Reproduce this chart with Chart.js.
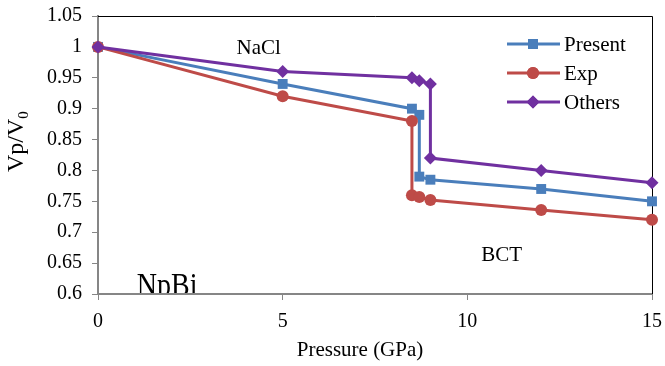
<!DOCTYPE html>
<html>
<head>
<meta charset="utf-8">
<script src="https://cdn.jsdelivr.net/npm/chart.js@4.4.0/dist/chart.umd.min.js"></script>
<style>
  html, body { margin: 0; padding: 0; background: #fff; }
  #wrap { width: 665px; height: 366px; }
</style>
</head>
<body>
<div id="wrap"><canvas id="npbiChart" width="665" height="366"></canvas></div>
<script>
// values
const seriesNames = ['Present', 'Exp', 'Others'];
const presentX = [0, 5, 8.5, 8.7, 8.7, 9, 12, 15];
const presentY = [1, 0.94, 0.9, 0.89, 0.79, 0.785, 0.77, 0.75];
const expX = [0, 5, 8.5, 8.5, 8.7, 9, 12, 15];
const expY = [1, 0.92, 0.88, 0.76, 0.757, 0.752, 0.736, 0.72];
const othersX = [0, 5, 8.5, 8.7, 9, 9, 12, 15];
const othersY = [1, 0.96, 0.95, 0.945, 0.94, 0.82, 0.8, 0.78];

const serif = '"Liberation Serif", "Times New Roman", serif';
const axisGray = '#868686';

function toPoints(xs, ys) {
  return xs.map((x, i) => ({ x: x, y: ys[i] }));
}

function series(name, xs, ys, color, style, radius, order) {
  return {
    label: name,
    data: toPoints(xs, ys),
    borderColor: color,
    backgroundColor: color,
    borderWidth: 3,
    pointStyle: style,
    pointRadius: radius,
    pointHoverRadius: radius,
    pointBorderWidth: 0,
    showLine: true,
    tension: 0,
    clip: false,
    order: order
  };
}

const data = {
  datasets: [
    series(seriesNames[0], presentX, presentY, '#4a7ebb', 'rect', 7, 3),
    series(seriesNames[1], expX, expY, '#be4b48', 'circle', 6, 2),
    series(seriesNames[2], othersX, othersY, '#7030a0', 'rectRot', 6.5, 1)
  ]
};

// frame, labels, legend and axis titles drawn by hand
const extras = {
  id: 'extras',
  beforeDatasetsDraw(chart) {
    const { ctx, chartArea: a } = chart;
    ctx.save();
    ctx.strokeStyle = '#000';
    ctx.lineWidth = 1;
    ctx.beginPath();
    ctx.moveTo(a.left, a.top + 0.5);
    ctx.lineTo(a.right + 0.5, a.top + 0.5);
    ctx.lineTo(a.right + 0.5, a.bottom);
    ctx.stroke();
    ctx.restore();
  },
  afterDraw(chart) {
    const { ctx, chartArea: a, scales } = chart;
    const xs = scales.x, ys = scales.y;
    ctx.save();
    ctx.fillStyle = '#000';
    ctx.textBaseline = 'alphabetic';

    // phase labels
    ctx.font = '21px ' + serif;
    ctx.textAlign = 'center';
    ctx.fillText('NaCl', xs.getPixelForValue(4.35), ys.getPixelForValue(0.9885));
    ctx.fillText('BCT', xs.getPixelForValue(10.93), ys.getPixelForValue(0.654));

    // compound name, cut off by the plot area like in the original
    ctx.save();
    ctx.beginPath();
    ctx.rect(a.left, a.top, a.right - a.left, a.bottom - a.top - 1);
    ctx.clip();
    ctx.font = '28px ' + serif;
    ctx.textAlign = 'left';
    ctx.translate(xs.getPixelForValue(1.05), a.bottom + 2);
    ctx.scale(1, 1.2);
    ctx.fillText('NpBi', 0, 0);
    ctx.restore();

    // legend: line with marker, like Excel
    ctx.font = '21px ' + serif;
    ctx.textAlign = 'left';
    chart.data.datasets.forEach((ds, i) => {
      const y = a.top + 28 + i * 29;
      const x0 = a.right - 145;
      ctx.strokeStyle = ds.borderColor;
      ctx.lineWidth = 3;
      ctx.beginPath();
      ctx.moveTo(x0, y);
      ctx.lineTo(x0 + 53, y);
      ctx.stroke();
      ctx.fillStyle = ds.backgroundColor;
      Chart.helpers.drawPoint(ctx, { pointStyle: ds.pointStyle, rotation: 0, borderWidth: 0, radius: ds.pointRadius }, x0 + 26, y);
      ctx.fill();
      ctx.fillStyle = '#000';
      ctx.fillText(ds.label, x0 + 57, y + 7);
    });

    // axis titles
    ctx.font = '21px ' + serif;
    ctx.textAlign = 'center';
    ctx.fillText('Pressure (GPa)', 360, 356);

    ctx.translate(23, 172);
    ctx.rotate(-Math.PI / 2);
    ctx.textAlign = 'left';
    ctx.font = '24px ' + serif;
    ctx.fillText('Vp/V', 0, 0);
    const w = ctx.measureText('Vp/V').width;
    ctx.font = '15px ' + serif;
    ctx.fillText('0', w, 5);
    ctx.restore();
  }
};

const config = {
  type: 'line',
  data: data,
  options: {
    responsive: false,
    animation: false,
    layout: { padding: { left: 0, right: 13, top: 16, bottom: 0 } },
    plugins: {
      legend: { display: false },
      tooltip: { enabled: false }
    },
    scales: {
      x: {
        type: 'linear',
        min: 0,
        max: 15,
        afterFit(scale) {
          scale.height = 72;
          scale.paddingLeft = 0;
          scale.paddingRight = 0;
        },
        ticks: {
          stepSize: 5,
          padding: 10,
          color: '#000',
          font: { family: serif, size: 20 }
        },
        grid: { drawOnChartArea: false, drawTicks: true, tickLength: 6, color: axisGray },
        border: { color: axisGray, width: 2 }
      },
      y: {
        type: 'linear',
        min: 0.6,
        max: 1.05,
        afterFit(scale) {
          scale.width = 98;
          scale.paddingTop = 0;
          scale.paddingBottom = 0;
        },
        ticks: {
          stepSize: 0.05,
          padding: 10,
          color: '#000',
          font: { family: serif, size: 20 },
          callback: v => String(parseFloat(v.toFixed(2)))
        },
        grid: { drawOnChartArea: false, drawTicks: true, tickLength: 6, color: axisGray },
        border: { color: axisGray, width: 2 }
      }
    }
  },
  plugins: [extras]
};

new Chart(document.getElementById('npbiChart'), config);
</script>
</body>
</html>
